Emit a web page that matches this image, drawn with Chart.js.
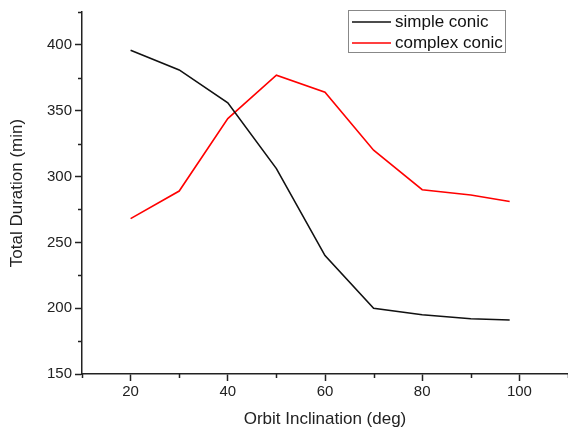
<!DOCTYPE html>
<html>
<head>
<meta charset="utf-8">
<script src="https://cdn.jsdelivr.net/npm/chart.js@4"></script>
<style>
html,body{margin:0;padding:0;background:#fff;}
#wrap{width:568px;height:430px;position:relative;}
</style>
</head>
<body>
<div id="wrap"><canvas id="c" width="568" height="430"></canvas></div>
<script>
const inclinations = [20, 30, 40, 50, 60, 70, 80, 90, 98];
const simpleConic = [396, 381, 356, 306, 240, 200, 195, 192, 191];
const complexConic = [268, 289, 344, 377, 364, 320, 290, 286, 281];
const seriesNames = ['simple conic', 'complex conic'];
const seriesColors = ['#111111', '#ff0000'];
const xTickLabels = [20, 40, 60, 80, 100];
const yTickLabels = [150, 200, 250, 300, 350, 400];

const FONT = 'Liberation Sans, Arial, sans-serif';

const minorTicks = {
  id: 'minorTicks',
  afterDraw(chart) {
    const ctx = chart.ctx;
    const xs = chart.scales.x, ys = chart.scales.y;
    const area = chart.chartArea;
    ctx.save();
    ctx.strokeStyle = '#222';
    ctx.lineWidth = 1.5;
    for (let v = 10; v <= 110; v += 10) {
      if (xTickLabels.includes(v)) continue;
      const px = Math.round(xs.getPixelForValue(v)) + 0.5;
      ctx.beginPath(); ctx.moveTo(px, area.bottom); ctx.lineTo(px, area.bottom + 4); ctx.stroke();
    }
    for (let v = 175; v <= 425; v += 50) {
      const py = Math.round(ys.getPixelForValue(v)) + 0.5;
      ctx.beginPath(); ctx.moveTo(area.left, py); ctx.lineTo(area.left - 4, py); ctx.stroke();
    }
    // legend box
    const bx = 348, by = 10, bw = 157, bh = 42;
    ctx.strokeStyle = '#888';
    ctx.lineWidth = 1;
    ctx.strokeRect(bx + 0.5, by + 0.5, bw, bh);
    ctx.font = '17px ' + FONT;
    ctx.textBaseline = 'middle';
    chart.data.datasets.forEach((ds, i) => {
      const cy = by + 12 + i * 21;
      ctx.strokeStyle = ds.borderColor;
      ctx.lineWidth = 1.5;
      ctx.beginPath(); ctx.moveTo(352, cy); ctx.lineTo(391, cy); ctx.stroke();
      ctx.fillStyle = '#111';
      ctx.fillText(ds.label, 395, cy);
    });
    ctx.restore();
  }
};

new Chart(document.getElementById('c'), {
  type: 'line',
  data: {
    datasets: [
      { label: seriesNames[0], data: inclinations.map((x, i) => ({x, y: simpleConic[i]})), borderColor: seriesColors[0], borderWidth: 1.6, pointRadius: 0, tension: 0 },
      { label: seriesNames[1], data: inclinations.map((x, i) => ({x, y: complexConic[i]})), borderColor: seriesColors[1], borderWidth: 1.6, pointRadius: 0, tension: 0 }
    ]
  },
  options: {
    responsive: false,
    animation: false,
    events: [],
    layout: { padding: { top: 10, right: 0, left: 0, bottom: 0 } },
    plugins: { legend: { display: false }, tooltip: { enabled: false } },
    scales: {
      x: {
        type: 'linear', min: 10, max: 110,
        afterBuildTicks(s) { s.ticks = xTickLabels.map(v => ({value: v})); },
        afterFit(s) { s.height = 56; },
        border: { display: true, color: '#222', width: 1.5 },
        grid: { display: true, drawOnChartArea: false, drawTicks: true, tickLength: 7, color: '#222', tickWidth: 1.5 },
        ticks: { color: '#222', font: { family: FONT, size: 15 }, padding: 2, maxRotation: 0 },
        title: { display: true, text: 'Orbit Inclination (deg)', color: '#222', font: { family: FONT, size: 17 }, padding: { top: 3, bottom: 0 } }
      },
      y: {
        type: 'linear', min: 150, max: 425,
        afterBuildTicks(s) { s.ticks = yTickLabels.map(v => ({value: v})); },
        afterFit(s) { s.width = 82; },
        border: { display: true, color: '#222', width: 1.5 },
        grid: { display: true, drawOnChartArea: false, drawTicks: true, tickLength: 7, color: '#222', tickWidth: 1.5 },
        ticks: { color: '#222', font: { family: FONT, size: 15 }, padding: 3 },
        title: { display: true, text: 'Total Duration (min)', color: '#222', font: { family: FONT, size: 17 }, padding: { top: 7, bottom: 0 } }
      }
    }
  },
  plugins: [minorTicks]
});
</script>
</body>
</html>
